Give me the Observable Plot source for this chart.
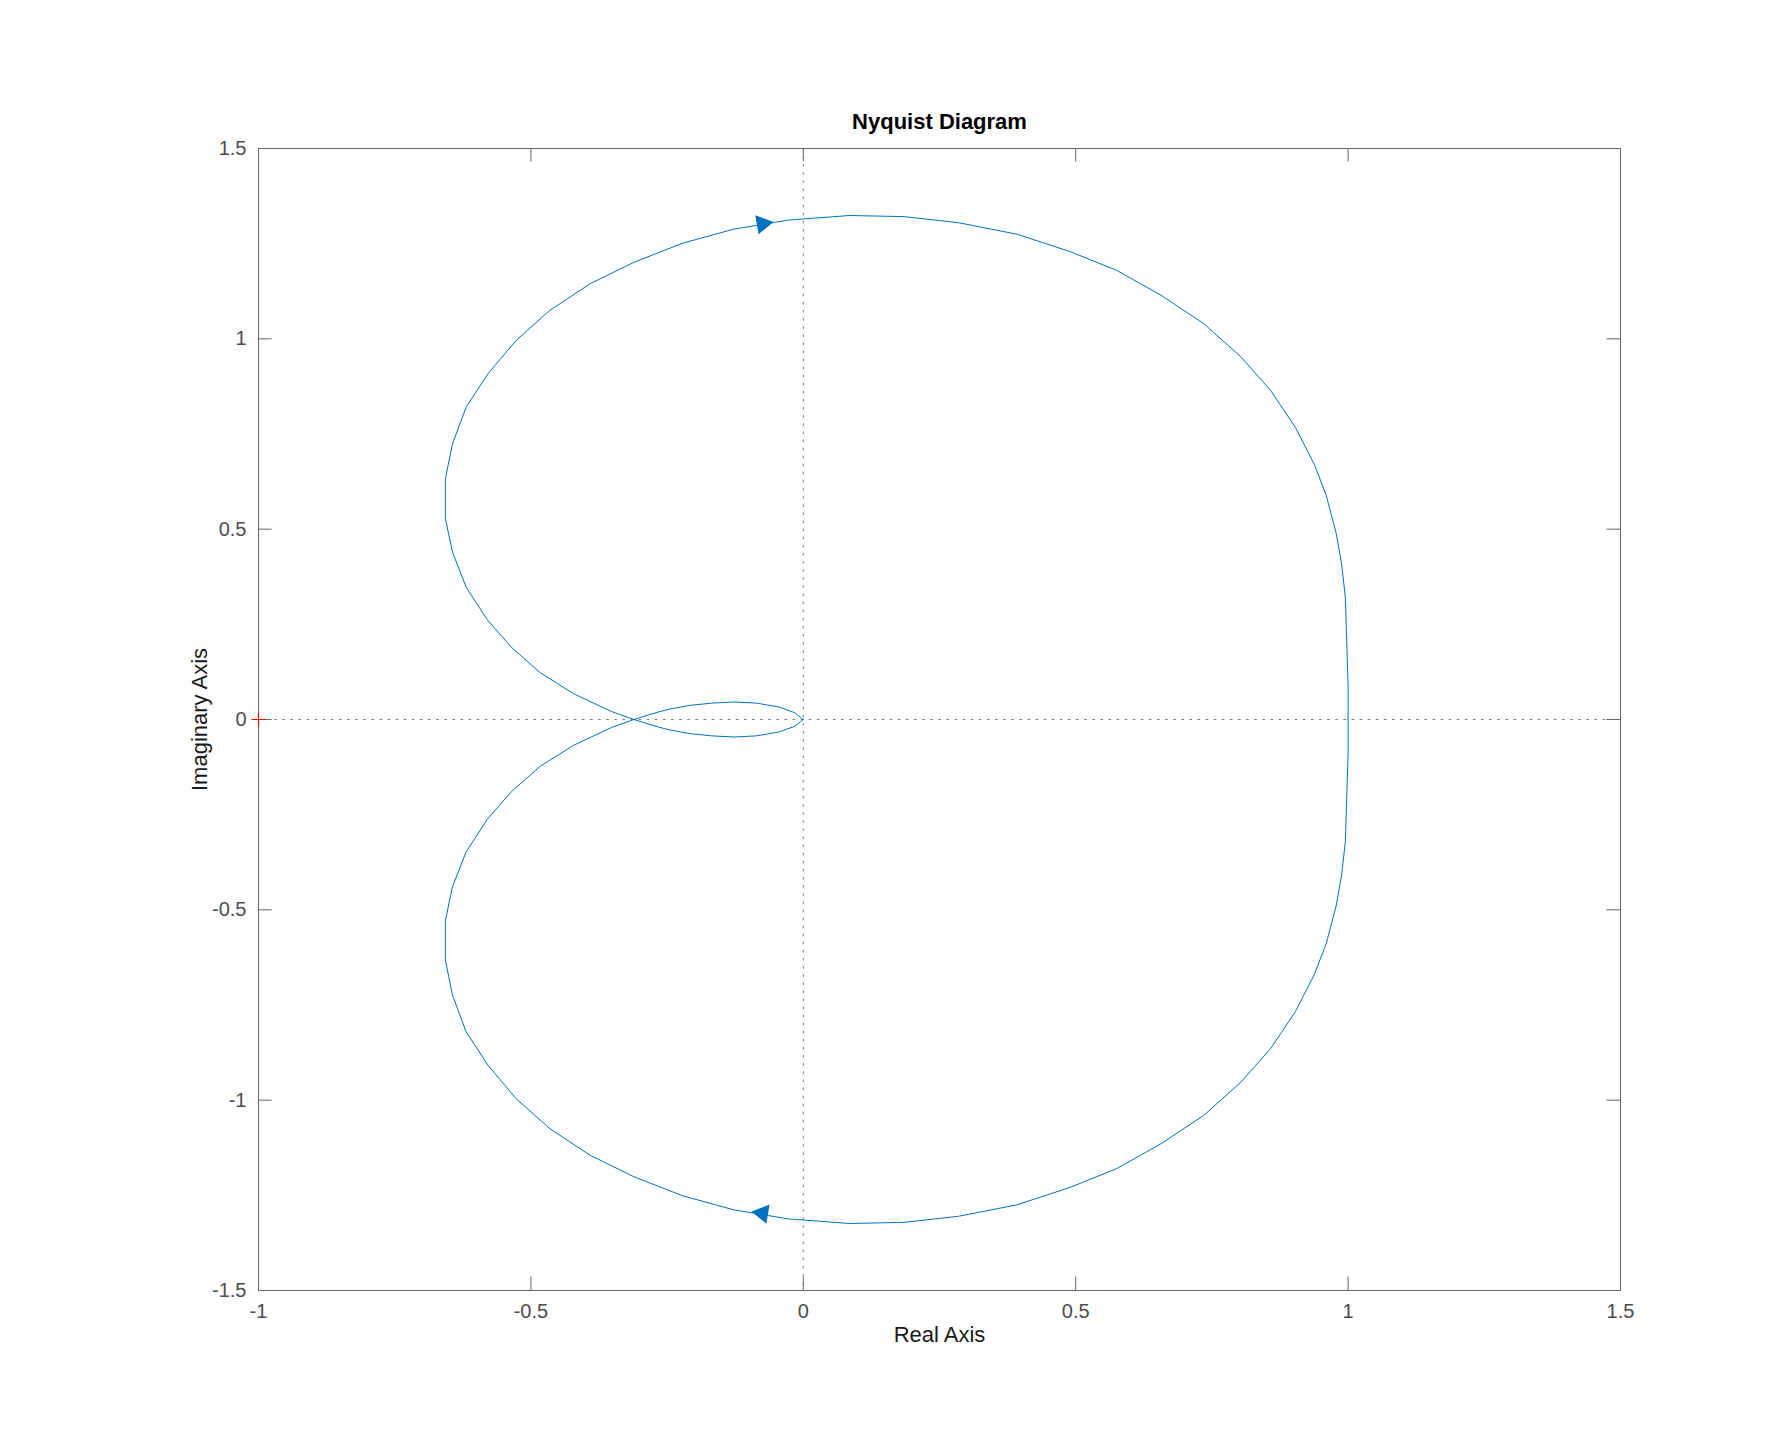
<!DOCTYPE html>
<html>
<head>
<meta charset="utf-8">
<script src="https://cdn.jsdelivr.net/npm/d3@7"></script>
<script src="https://cdn.jsdelivr.net/npm/@observablehq/plot@0.6"></script>
<style>
  html, body { margin: 0; padding: 0; background: #fff; }
  #chart svg { display: block; }
</style>
</head>
<body>
<div id="chart"></div>
<script>
// ---- Data (Nyquist plot, real / imaginary parts) ----
// Positive-frequency branch (omega: 0 -> +inf)
const posRe = [1.000, 1.000, 0.998, 0.995, 0.988, 0.978, 0.960, 0.938, 0.903, 0.858, 0.803, 0.735, 0.656, 0.575, 0.490, 0.392, 0.285, 0.185, 0.085, -0.027, -0.128, -0.222, -0.311, -0.391, -0.466, -0.527, -0.579, -0.619, -0.644, -0.657, -0.657, -0.644, -0.619, -0.580, -0.536, -0.483, -0.422, -0.352, -0.311, -0.282, -0.250, -0.209, -0.168, -0.127, -0.086, -0.045, -0.016, 0.000];
const posIm = [0.000, -0.090, -0.181, -0.320, -0.410, -0.490, -0.588, -0.670, -0.768, -0.864, -0.953, -1.040, -1.115, -1.180, -1.229, -1.275, -1.305, -1.321, -1.324, -1.312, -1.288, -1.251, -1.201, -1.145, -1.074, -0.996, -0.908, -0.820, -0.724, -0.632, -0.528, -0.440, -0.348, -0.262, -0.190, -0.123, -0.068, -0.021, 0.000, 0.013, 0.026, 0.037, 0.043, 0.046, 0.043, 0.033, 0.018, 0.000];
// Negative-frequency branch (omega: -inf -> 0)
const negRe = [0.000, -0.016, -0.045, -0.086, -0.127, -0.168, -0.209, -0.250, -0.282, -0.311, -0.352, -0.422, -0.483, -0.536, -0.580, -0.619, -0.644, -0.657, -0.657, -0.644, -0.619, -0.579, -0.527, -0.466, -0.391, -0.311, -0.222, -0.128, -0.027, 0.085, 0.185, 0.285, 0.392, 0.490, 0.575, 0.656, 0.735, 0.803, 0.858, 0.903, 0.938, 0.960, 0.978, 0.988, 0.995, 0.998, 1.000, 1.000];
const negIm = [0.000, -0.018, -0.033, -0.043, -0.046, -0.043, -0.037, -0.026, -0.013, 0.000, 0.021, 0.068, 0.123, 0.190, 0.262, 0.348, 0.440, 0.528, 0.632, 0.724, 0.820, 0.908, 0.996, 1.074, 1.145, 1.201, 1.251, 1.288, 1.312, 1.324, 1.321, 1.305, 1.275, 1.229, 1.180, 1.115, 1.040, 0.953, 0.864, 0.768, 0.670, 0.588, 0.490, 0.410, 0.320, 0.181, 0.090, 0.000];

// Direction arrows (location on curve, branch they belong to)
const arrowRe = [-0.075, -0.075];
const arrowIm = [1.302, -1.297];
const arrowBranch = ["neg", "pos"];

// Critical point marker
const critRe = [-1];
const critIm = [0];

// Axis ticks and texts
const xTicks = [-1, -0.5, 0, 0.5, 1, 1.5];
const yTicks = [-1.5, -1, -0.5, 0, 0.5, 1, 1.5];
const titleText = "Nyquist Diagram";
const xLabel = "Real Axis";
const yLabel = "Imaginary Axis";

// ---- Layout ----
const W = 1790, H = 1450;
const mt = 148, mb = 160, ml = 258, mr = 170;
const innerW = W - ml - mr, innerH = H - mt - mb;
const xDom = [-1, 1.5], yDom = [-1.5, 1.5];
const TL = 13.6; // tick length
const FONT = "'Liberation Sans', Arial, Helvetica, sans-serif";
const BLUE = "#0072BD";

const pos = posRe.map((re, i) => ({re, im: posIm[i]}));
const neg = negRe.map((re, i) => ({re, im: negIm[i]}));
const branches = {pos, neg};

// rotation of arrowheads following the curve direction (in screen space)
const kx = innerW / (xDom[1] - xDom[0]);
const ky = innerH / (yDom[1] - yDom[0]);
const arrows = arrowRe.map((re, i) => {
  const b = branches[arrowBranch[i]];
  const im = arrowIm[i];
  let best = 0, bestD = Infinity;
  for (let j = 0; j < b.length - 1; j++) {
    const mx = (b[j].re + b[j + 1].re) / 2, my = (b[j].im + b[j + 1].im) / 2;
    const d = ((mx - re) * kx) ** 2 + ((my - im) * ky) ** 2;
    if (d < bestD) { bestD = d; best = j; }
  }
  const dx = (b[best + 1].re - b[best].re) * kx;
  const dy = -(b[best + 1].im - b[best].im) * ky;
  return {re, im, angle: Math.atan2(dx, -dy) * 180 / Math.PI};
});
const crit = critRe.map((re, i) => ({re, im: critIm[i]}));

const chart = Plot.plot({
  width: W,
  height: H,
  marginTop: mt,
  marginBottom: mb,
  marginLeft: ml,
  marginRight: mr,
  x: {domain: xDom, axis: null},
  y: {domain: yDom, axis: null},
  style: {fontFamily: FONT, background: "#fff", overflow: "visible"},
  marks: [
    Plot.ruleX([0], {stroke: "#7a7a7a", strokeWidth: 1, strokeDasharray: "2.5,5.6"}),
    Plot.ruleY([0], {stroke: "#7a7a7a", strokeWidth: 1, strokeDasharray: "2.5,5.6"}),
    Plot.line(pos, {x: "re", y: "im", stroke: BLUE, strokeWidth: 1, curve: "linear"}),
    Plot.line(neg, {x: "re", y: "im", stroke: BLUE, strokeWidth: 1, curve: "linear"}),
    Plot.dot(arrows, {x: "re", y: "im", symbol: "triangle", r: 7.2, fill: BLUE, stroke: "none", rotate: "angle"}),
    // ticks inside the box on all four sides
    Plot.tickX(xTicks, {x: d => d, stroke: "#666", strokeWidth: 1, insetTop: innerH - TL}),
    Plot.tickX(xTicks, {x: d => d, stroke: "#666", strokeWidth: 1, insetBottom: innerH - TL}),
    Plot.tickY(yTicks, {y: d => d, stroke: "#666", strokeWidth: 1, insetRight: innerW - TL}),
    Plot.tickY(yTicks, {y: d => d, stroke: "#666", strokeWidth: 1, insetLeft: innerW - TL}),
    Plot.frame({stroke: "#666", strokeWidth: 1}),
    Plot.dot(crit, {x: "re", y: "im", symbol: "plus", r: 4.6, stroke: "red", strokeWidth: 1.2}),
    // tick labels
    Plot.text(xTicks, {x: d => d, text: d => String(d), frameAnchor: "bottom", dy: 27, fontSize: 20, fill: "#4d4d4d"}),
    Plot.text(yTicks, {y: d => d, text: d => String(d), frameAnchor: "left", textAnchor: "end", dx: -12, fontSize: 20, fill: "#4d4d4d"}),
    // axis labels and title
    Plot.text([xLabel], {text: d => d, frameAnchor: "bottom", dy: 51, fontSize: 22, fill: "#1a1a1a"}),
    Plot.text([yLabel], {text: d => d, frameAnchor: "left", textAnchor: "middle", dx: -59, rotate: -90, fontSize: 22, fill: "#1a1a1a"}),
    Plot.text([titleText], {text: d => d, frameAnchor: "top", textAnchor: "middle", dy: -35, fontSize: 22, fontWeight: "bold", fill: "#000"})
  ]
});
document.getElementById("chart").appendChild(chart);
</script>
</body>
</html>
